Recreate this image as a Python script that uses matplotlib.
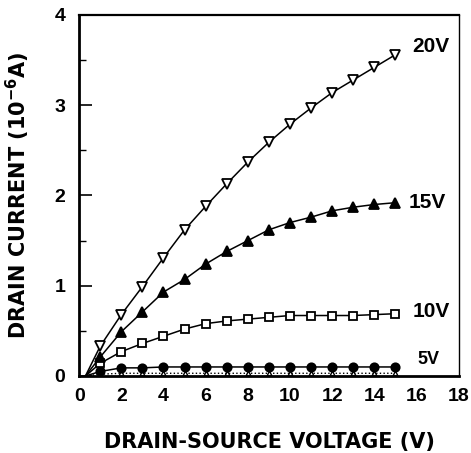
import matplotlib
matplotlib.use("Agg")
import matplotlib.pyplot as plt
from matplotlib.ticker import MultipleLocator

# drain-source voltage (V); first point is the line start near the origin
vds = [0.3, 1, 2, 3, 4, 5, 6, 7, 8, 9, 10, 11, 12, 13, 14, 15]

# drain current (1e-6 A) for each gate voltage
id_20v = [0.0, 0.33, 0.68, 0.99, 1.31, 1.62, 1.88, 2.13, 2.37, 2.59, 2.79, 2.97, 3.14, 3.28, 3.42, 3.56]
id_15v = [0.0, 0.21, 0.49, 0.71, 0.93, 1.07, 1.24, 1.38, 1.50, 1.62, 1.70, 1.76, 1.83, 1.87, 1.90, 1.92]
id_10v = [0.0, 0.14, 0.27, 0.36, 0.44, 0.52, 0.58, 0.61, 0.63, 0.65, 0.67, 0.67, 0.67, 0.67, 0.68, 0.69]
id_5v = [0.0, 0.05, 0.09, 0.09, 0.10, 0.10, 0.10, 0.10, 0.10, 0.10, 0.10, 0.10, 0.10, 0.10, 0.10, 0.10]
id_0v = [0.0, 0.02, 0.03, 0.03, 0.03, 0.03, 0.03, 0.03, 0.03, 0.03, 0.03, 0.03, 0.03, 0.03, 0.03, 0.03]

curve_labels = ["20V", "15V", "10V", "5V"]
label_pos = [(15.8, 3.65), (15.6, 1.92), (15.8, 0.72), (16.05, 0.18)]

bold = dict(family="Liberation Sans", weight="bold")

fig = plt.figure(figsize=(4.71, 4.53), dpi=100)
ax = fig.add_axes([0.168, 0.17, 0.806, 0.797])

mk = dict(color="black", lw=1.1, markevery=slice(1, None), markeredgewidth=1.3)
ax.plot(vds, id_0v, marker="^", ms=3.5, mfc="white", mec="black", ls=":", color="black",
        lw=1.0, markevery=slice(1, None))
ax.plot(vds, id_5v, marker="o", ms=6, mfc="black", mec="black", **mk)
ax.plot(vds, id_10v, marker="s", ms=6, mfc="white", mec="black", **mk)
ax.plot(vds, id_15v, marker="^", ms=7, mfc="black", mec="black", **mk)
ax.plot(vds, id_20v, marker="v", ms=7, mfc="white", mec="black", **mk)

for text, (tx, ty) in zip(curve_labels, label_pos):
    ax.text(tx, ty, text, fontsize=15 if text != "5V" else 13, va="center", ha="left", **bold)

ax.set_xlim(0, 18)
ax.set_ylim(0, 4)
ax.xaxis.set_major_locator(MultipleLocator(2))
ax.yaxis.set_major_locator(MultipleLocator(1))
ax.yaxis.set_minor_locator(MultipleLocator(0.5))

ax.tick_params(axis="y", which="major", direction="in", length=9, width=1.2, pad=10)
ax.tick_params(axis="y", which="minor", direction="in", length=5, width=1.0)
ax.tick_params(axis="x", which="major", length=0, pad=9)
for lab in ax.get_xticklabels() + ax.get_yticklabels():
    lab.set_fontsize(14)
    lab.set_fontfamily("Liberation Sans")
    lab.set_fontweight("bold")

for side in ["left", "bottom"]:
    ax.spines[side].set_linewidth(2.0)
ax.spines["top"].set_linewidth(1.6)
ax.spines["right"].set_linewidth(1.0)

ax.set_xlabel("DRAIN-SOURCE VOLTAGE (V)", fontsize=15, fontweight="bold", family="DejaVu Sans")
ax.set_ylabel("DRAIN CURRENT (10$^{\\mathbf{-6}}$A)", fontsize=15, fontweight="bold",
              family="DejaVu Sans")
ax.xaxis.set_label_coords(0.5, -0.155)
ax.yaxis.set_label_coords(-0.125, 0.5)

fig.savefig("out.png", dpi=100)
